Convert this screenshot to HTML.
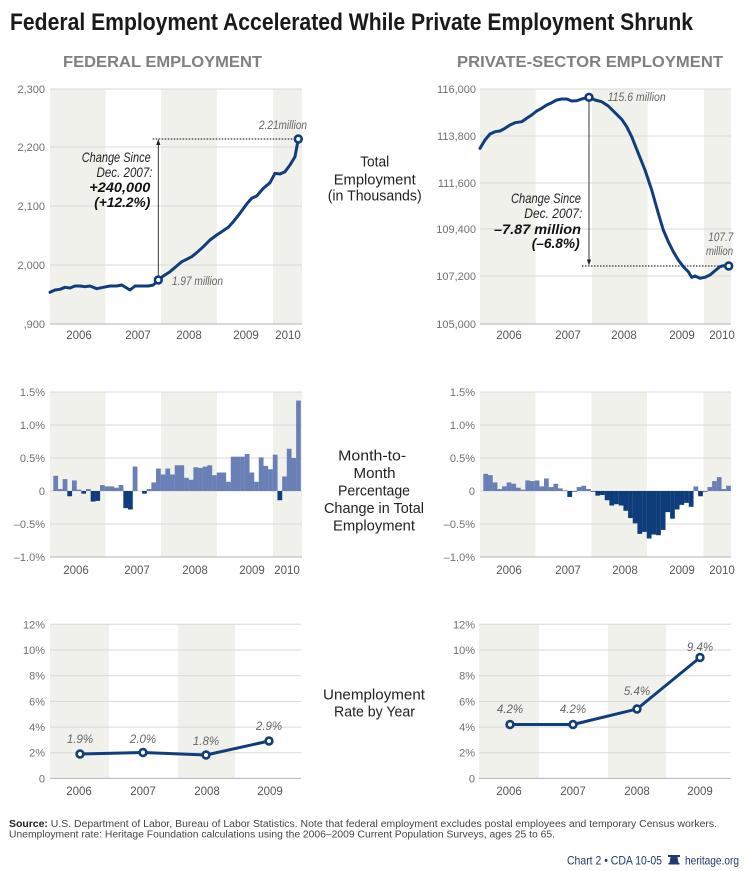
<!DOCTYPE html>
<html><head><meta charset="utf-8"><style>
html,body{margin:0;padding:0;background:#fff;}
svg{display:block;}
text{font-family:"Liberation Sans",sans-serif;}
.tk{font-size:11px;fill:#707070;}
.yr{font-size:11.5px;fill:#555;text-anchor:middle;}
.ctr{font-size:15px;fill:#222;}
.ann{font-size:14px;fill:#222;font-style:italic;}
.annb{font-size:14px;fill:#111;font-style:italic;font-weight:bold;}
.ml{font-size:11.5px;fill:#666;font-style:italic;}
.grid{stroke:#dadada;stroke-width:1;}
.axis{stroke:#b5b5b5;stroke-width:1;}
.band{fill:#eff1ea;}
.ln{fill:none;stroke:#103e7c;stroke-width:3;stroke-linejoin:round;stroke-linecap:round;}
.mk{fill:#fff;stroke:#103e7c;stroke-width:2.6;}
.pos{fill:#6a7fb6;}
.neg{fill:#0f3d7c;}
</style></head><body>
<svg width="750" height="871" viewBox="0 0 750 871" xmlns="http://www.w3.org/2000/svg">
<!-- Title -->
<text x="10" y="30" font-size="24" font-weight="bold" fill="#1a1a1a" textLength="683" lengthAdjust="spacingAndGlyphs">Federal Employment Accelerated While Private Employment Shrunk</text>
<text x="63" y="67" font-size="16" font-weight="bold" fill="#808080" textLength="199" lengthAdjust="spacingAndGlyphs">FEDERAL EMPLOYMENT</text>
<text x="457" y="67" font-size="16" font-weight="bold" fill="#808080" textLength="266" lengthAdjust="spacingAndGlyphs">PRIVATE-SECTOR EMPLOYMENT</text>

<!-- ===== TOP LEFT ===== -->
<rect class="band" x="50" y="89" width="55.5" height="235"/>
<rect class="band" x="161" y="89" width="56" height="235"/>
<rect class="band" x="273" y="89" width="29" height="235"/>
<line class="grid" x1="50" x2="302" y1="89" y2="89"/>
<line class="grid" x1="50" x2="302" y1="147" y2="147"/>
<line class="grid" x1="50" x2="302" y1="206" y2="206"/>
<line class="grid" x1="50" x2="302" y1="265" y2="265"/>
<line class="axis" x1="50" x2="302" y1="324" y2="324"/>
<g class="tk" text-anchor="end">
<text x="45" y="93">2,300</text>
<text x="45" y="151">2,200</text>
<text x="45" y="210">2,100</text>
<text x="45" y="269">2,000</text>
<text x="45" y="328">,900</text>
</g>
<g class="yr">
<text x="79" y="339">2006</text>
<text x="138" y="339">2007</text>
<text x="189" y="339">2008</text>
<text x="246" y="339">2009</text>
<text x="288" y="339">2010</text>
</g>
<line x1="152.7" x2="294" y1="139" y2="139" stroke="#333" stroke-width="1.2" stroke-dasharray="1.5,1.5"/>
<line x1="158.3" x2="158.3" y1="276" y2="142" stroke="#222" stroke-width="0.9"/>
<polygon points="158.3,139 156.2,145 160.4,145" fill="#222"/>
<polyline class="ln" points="50,292.3 55,290 60,289.3 65,287.3 70,288 75,286 80,286 85,286.7 90,286 96.7,288.7 103.3,287.3 110,286 116.7,286 121.7,285 130,290 135,286 140,286 148.3,286 153.3,285 158.3,280 163.3,276 170,271.7 176.7,266 181.7,261.7 186.7,259.3 191.7,256.7 196.7,252.7 203.3,246.7 210,240 216.7,235 221.7,231.7 228.3,227.3 233.3,221.7 240,213.3 246.7,204 251.7,198.3 256.7,196 263.3,188.3 270,182.7 275,173.3 280,174 285,171.7 290,165 295,156.7 298.3,139"/>
<circle class="mk" cx="158.3" cy="280" r="3.4"/>
<circle class="mk" cx="298.3" cy="139" r="3.4"/>
<text class="ml" x="259" y="129" textLength="48" lengthAdjust="spacingAndGlyphs">2.21million</text>
<text class="ml" x="172" y="285" textLength="51" lengthAdjust="spacingAndGlyphs">1.97 million</text>
<text class="ann" x="81.7" y="162" textLength="69" lengthAdjust="spacingAndGlyphs">Change Since</text>
<text class="ann" x="96.5" y="177" textLength="56" lengthAdjust="spacingAndGlyphs">Dec. 2007:</text>
<text class="annb" x="89.3" y="192" textLength="61" lengthAdjust="spacingAndGlyphs">+240,000</text>
<text class="annb" x="94.3" y="207" textLength="56" lengthAdjust="spacingAndGlyphs">(+12.2%)</text>

<!-- center label top -->
<text class="ctr" x="360.2" y="166.7" textLength="29" lengthAdjust="spacingAndGlyphs">Total</text>
<text class="ctr" x="333.7" y="184.3" textLength="82" lengthAdjust="spacingAndGlyphs">Employment</text>
<text class="ctr" x="327.7" y="200.7" textLength="94" lengthAdjust="spacingAndGlyphs">(in Thousands)</text>

<!-- ===== TOP RIGHT ===== -->
<rect class="band" x="480" y="89" width="55.7" height="235"/>
<rect class="band" x="592" y="89" width="55.7" height="235"/>
<rect class="band" x="704" y="89" width="27" height="235"/>
<line class="grid" x1="480" x2="731" y1="89" y2="89"/>
<line class="grid" x1="480" x2="731" y1="136" y2="136"/>
<line class="grid" x1="480" x2="731" y1="183" y2="183"/>
<line class="grid" x1="480" x2="731" y1="229" y2="229"/>
<line class="grid" x1="480" x2="731" y1="276" y2="276"/>
<line class="axis" x1="480" x2="731" y1="324" y2="324"/>
<g class="tk" text-anchor="end">
<text x="476" y="93">116,000</text>
<text x="476" y="140">113,800</text>
<text x="476" y="187">111,600</text>
<text x="476" y="233">109,400</text>
<text x="476" y="280">107,200</text>
<text x="476" y="328">105,000</text>
</g>
<g class="yr">
<text x="509" y="339">2006</text>
<text x="568" y="339">2007</text>
<text x="624" y="339">2008</text>
<text x="682" y="339">2009</text>
<text x="722" y="339">2010</text>
</g>
<line x1="582" x2="725" y1="266" y2="266" stroke="#333" stroke-width="1.2" stroke-dasharray="1.5,1.5"/>
<line x1="589" x2="589" y1="101" y2="262" stroke="#222" stroke-width="0.9"/>
<polygon points="589,265.5 586.9,259.5 591.1,259.5" fill="#222"/>
<polyline class="ln" points="480,148.3 485,140 490,134 495,131.7 500,131 505,128.3 510,125 515,122.7 521.7,121.7 526.7,118.3 531.7,115 536.7,111 541.7,108.3 546.7,105 551.7,102.7 556.7,100 561.7,99 566.7,99 571.7,101 576.7,100.7 581.7,99 589,97.3 595,100 601.7,101.7 608.3,106 615,112.7 621.7,119.3 626.7,126.7 631.7,136.7 638.3,153.3 645,170 651.7,190 658.3,213.3 663.3,230 668.3,241.7 673.3,251.7 678.3,260 683.3,266.7 688.3,271.7 691.7,277.3 695,276 700,278.3 705,277.3 710,275 715,270.7 720,266.7 723.3,265.7 728.7,266"/>
<circle class="mk" cx="589" cy="97.3" r="3.4"/>
<circle class="mk" cx="728.7" cy="266" r="3.4"/>
<text class="ml" x="607.7" y="101" textLength="58" lengthAdjust="spacingAndGlyphs">115.6 million</text>
<text class="ml" x="708.3" y="241" textLength="25" lengthAdjust="spacingAndGlyphs">107.7</text>
<text class="ml" x="706" y="255" textLength="27" lengthAdjust="spacingAndGlyphs">million</text>
<text class="ann" x="511" y="203" textLength="70" lengthAdjust="spacingAndGlyphs">Change Since</text>
<text class="ann" x="524.3" y="218" textLength="58" lengthAdjust="spacingAndGlyphs">Dec. 2007:</text>
<text class="annb" x="494" y="234" textLength="87" lengthAdjust="spacingAndGlyphs">–7.87 million</text>
<text class="annb" x="531.7" y="248" textLength="48" lengthAdjust="spacingAndGlyphs">(–6.8%)</text>

<!-- ===== MIDDLE LEFT ===== -->
<rect class="band" x="50" y="392" width="55.5" height="165"/>
<rect class="band" x="161" y="392" width="56" height="165"/>
<rect class="band" x="273" y="392" width="29" height="165"/>
<line class="grid" x1="50" x2="302" y1="392" y2="392"/>
<line class="grid" x1="50" x2="302" y1="425" y2="425"/>
<line class="grid" x1="50" x2="302" y1="458" y2="458"/>
<line class="grid" x1="50" x2="302" y1="491" y2="491"/>
<line class="grid" x1="50" x2="302" y1="524" y2="524"/>
<line class="axis" x1="50" x2="302" y1="557" y2="557"/>
<g class="tk" text-anchor="end">
<text x="45" y="396">1.5%</text>
<text x="45" y="429">1.0%</text>
<text x="45" y="462">0.5%</text>
<text x="45" y="495">0</text>
<text x="45" y="528">–0.5%</text>
<text x="45" y="561">–1.0%</text>
</g>
<g class="yr">
<text x="76" y="574">2006</text>
<text x="137" y="574">2007</text>
<text x="195" y="574">2008</text>
<text x="252" y="574">2009</text>
<text x="287" y="574">2010</text>
</g>
<g transform="translate(53.3,491) scale(4.67,-66)">
<g class="pos">
<rect x="0" y="0" width="1.02" height="0.23"/>
<rect x="1" y="0" width="1.02" height="0.03"/>
<rect x="2" y="0" width="1.02" height="0.18"/>
<rect x="4" y="0" width="1.02" height="0.16"/>
<rect x="5" y="0" width="1.02" height="0.02"/>
<rect x="7" y="0" width="1.02" height="0.03"/>
<rect x="10" y="0" width="1.02" height="0.09"/>
<rect x="11" y="0" width="1.02" height="0.07"/>
<rect x="12" y="0" width="1.02" height="0.07"/>
<rect x="13" y="0" width="1.02" height="0.05"/>
<rect x="14" y="0" width="1.02" height="0.09"/>
<rect x="17" y="0" width="1.02" height="0.37"/>
<rect x="20" y="0" width="1.02" height="0.03"/>
<rect x="21" y="0" width="1.02" height="0.13"/>
<rect x="22" y="0" width="1.02" height="0.34"/>
<rect x="23" y="0" width="1.02" height="0.25"/>
<rect x="24" y="0" width="1.02" height="0.34"/>
<rect x="25" y="0" width="1.02" height="0.25"/>
<rect x="26" y="0" width="1.02" height="0.39"/>
<rect x="27" y="0" width="1.02" height="0.39"/>
<rect x="28" y="0" width="1.02" height="0.20"/>
<rect x="29" y="0" width="1.02" height="0.17"/>
<rect x="30" y="0" width="1.02" height="0.36"/>
<rect x="31" y="0" width="1.02" height="0.35"/>
<rect x="32" y="0" width="1.02" height="0.37"/>
<rect x="33" y="0" width="1.02" height="0.39"/>
<rect x="34" y="0" width="1.02" height="0.24"/>
<rect x="35" y="0" width="1.02" height="0.28"/>
<rect x="36" y="0" width="1.02" height="0.28"/>
<rect x="37" y="0" width="1.02" height="0.14"/>
<rect x="38" y="0" width="1.02" height="0.52"/>
<rect x="39" y="0" width="1.02" height="0.52"/>
<rect x="40" y="0" width="1.02" height="0.52"/>
<rect x="41" y="0" width="1.02" height="0.56"/>
<rect x="42" y="0" width="1.02" height="0.28"/>
<rect x="43" y="0" width="1.02" height="0.14"/>
<rect x="44" y="0" width="1.02" height="0.51"/>
<rect x="45" y="0" width="1.02" height="0.38"/>
<rect x="46" y="0" width="1.02" height="0.33"/>
<rect x="47" y="0" width="1.02" height="0.55"/>
<rect x="49" y="0" width="1.02" height="0.22"/>
<rect x="50" y="0" width="1.02" height="0.64"/>
<rect x="51" y="0" width="1.02" height="0.50"/>
<rect x="52" y="0" width="1.0" height="1.37"/>
</g>
<g class="neg">
<rect x="3" y="-0.08" width="1.02" height="0.08"/>
<rect x="6" y="-0.04" width="1.02" height="0.04"/>
<rect x="8" y="-0.16" width="1.02" height="0.16"/>
<rect x="9" y="-0.15" width="1.02" height="0.15"/>
<rect x="15" y="-0.26" width="1.02" height="0.26"/>
<rect x="16" y="-0.28" width="1.02" height="0.28"/>
<rect x="19" y="-0.04" width="1.02" height="0.04"/>
<rect x="48" y="-0.14" width="1.02" height="0.14"/>
</g>
</g>

<!-- center label middle -->
<text class="ctr" x="338.2" y="460.5" textLength="68" lengthAdjust="spacingAndGlyphs">Month-to-</text>
<text class="ctr" x="353.5" y="478" textLength="42" lengthAdjust="spacingAndGlyphs">Month</text>
<text class="ctr" x="338" y="495.5" textLength="72" lengthAdjust="spacingAndGlyphs">Percentage</text>
<text class="ctr" x="324" y="513" textLength="100" lengthAdjust="spacingAndGlyphs">Change in Total</text>
<text class="ctr" x="333" y="530.5" textLength="82" lengthAdjust="spacingAndGlyphs">Employment</text>

<!-- ===== MIDDLE RIGHT ===== -->
<rect class="band" x="480" y="392" width="55.5" height="165"/>
<rect class="band" x="591.5" y="392" width="55.5" height="165"/>
<rect class="band" x="703.5" y="392" width="27.5" height="165"/>
<line class="grid" x1="480" x2="731" y1="392" y2="392"/>
<line class="grid" x1="480" x2="731" y1="425" y2="425"/>
<line class="grid" x1="480" x2="731" y1="458" y2="458"/>
<line class="grid" x1="480" x2="731" y1="491" y2="491"/>
<line class="grid" x1="480" x2="731" y1="524" y2="524"/>
<line class="axis" x1="480" x2="731" y1="557" y2="557"/>
<g class="tk" text-anchor="end">
<text x="475" y="396">1.5%</text>
<text x="475" y="429">1.0%</text>
<text x="475" y="462">0.5%</text>
<text x="475" y="495">0</text>
<text x="475" y="528">–0.5%</text>
<text x="475" y="561">–1.0%</text>
</g>
<g class="yr">
<text x="509" y="574">2006</text>
<text x="568" y="574">2007</text>
<text x="625" y="574">2008</text>
<text x="682" y="574">2009</text>
<text x="722" y="574">2010</text>
</g>
<g transform="translate(483.3,491) scale(4.67,-66)">
<g class="pos">
<rect x="0" y="0" width="1.02" height="0.26"/>
<rect x="1" y="0" width="1.02" height="0.24"/>
<rect x="2" y="0" width="1.02" height="0.13"/>
<rect x="3" y="0" width="1.02" height="0.03"/>
<rect x="4" y="0" width="1.02" height="0.07"/>
<rect x="5" y="0" width="1.02" height="0.13"/>
<rect x="6" y="0" width="1.02" height="0.11"/>
<rect x="7" y="0" width="1.02" height="0.05"/>
<rect x="8" y="0" width="1.02" height="0.02"/>
<rect x="9" y="0" width="1.02" height="0.16"/>
<rect x="10" y="0" width="1.02" height="0.15"/>
<rect x="11" y="0" width="1.02" height="0.16"/>
<rect x="12" y="0" width="1.02" height="0.07"/>
<rect x="13" y="0" width="1.02" height="0.19"/>
<rect x="14" y="0" width="1.02" height="0.06"/>
<rect x="15" y="0" width="1.02" height="0.11"/>
<rect x="16" y="0" width="1.02" height="0.04"/>
<rect x="17" y="0" width="1.02" height="0.01"/>
<rect x="20" y="0" width="1.02" height="0.06"/>
<rect x="21" y="0" width="1.02" height="0.08"/>
<rect x="22" y="0" width="1.02" height="0.03"/>
<rect x="45" y="0" width="1.02" height="0.07"/>
<rect x="48" y="0" width="1.02" height="0.06"/>
<rect x="49" y="0" width="1.02" height="0.15"/>
<rect x="50" y="0" width="1.02" height="0.21"/>
<rect x="51" y="0" width="1.02" height="0.03"/>
<rect x="52" y="0" width="1.0" height="0.08"/>
</g>
<g class="neg">
<rect x="18" y="-0.09" width="1.02" height="0.09"/>
<rect x="19" y="-0.01" width="1.02" height="0.01"/>
<rect x="23" y="-0.01" width="1.02" height="0.01"/>
<rect x="24" y="-0.07" width="1.02" height="0.07"/>
<rect x="25" y="-0.06" width="1.02" height="0.06"/>
<rect x="26" y="-0.14" width="1.02" height="0.14"/>
<rect x="27" y="-0.22" width="1.02" height="0.22"/>
<rect x="28" y="-0.20" width="1.02" height="0.20"/>
<rect x="29" y="-0.22" width="1.02" height="0.22"/>
<rect x="30" y="-0.30" width="1.02" height="0.30"/>
<rect x="31" y="-0.41" width="1.02" height="0.41"/>
<rect x="32" y="-0.49" width="1.02" height="0.49"/>
<rect x="33" y="-0.65" width="1.02" height="0.65"/>
<rect x="34" y="-0.62" width="1.02" height="0.62"/>
<rect x="35" y="-0.72" width="1.02" height="0.72"/>
<rect x="36" y="-0.66" width="1.02" height="0.66"/>
<rect x="37" y="-0.67" width="1.02" height="0.67"/>
<rect x="38" y="-0.59" width="1.02" height="0.59"/>
<rect x="39" y="-0.32" width="1.02" height="0.32"/>
<rect x="40" y="-0.42" width="1.02" height="0.42"/>
<rect x="41" y="-0.28" width="1.02" height="0.28"/>
<rect x="42" y="-0.21" width="1.02" height="0.21"/>
<rect x="43" y="-0.18" width="1.02" height="0.18"/>
<rect x="44" y="-0.24" width="1.02" height="0.24"/>
<rect x="46" y="-0.08" width="1.02" height="0.08"/>
<rect x="47" y="-0.01" width="1.02" height="0.01"/>
</g>
</g>

<!-- ===== BOTTOM LEFT ===== -->
<rect class="band" x="50" y="624.3" width="59" height="154"/>
<rect class="band" x="178" y="624.3" width="57" height="154"/>
<line class="grid" x1="50" x2="301" y1="624.3" y2="624.3"/>
<line class="grid" x1="50" x2="301" y1="650" y2="650"/>
<line class="grid" x1="50" x2="301" y1="675.7" y2="675.7"/>
<line class="grid" x1="50" x2="301" y1="701.4" y2="701.4"/>
<line class="grid" x1="50" x2="301" y1="727.1" y2="727.1"/>
<line class="grid" x1="50" x2="301" y1="752.7" y2="752.7"/>
<line class="axis" x1="50" x2="301" y1="778.4" y2="778.4"/>
<g class="tk" text-anchor="end">
<text x="45" y="628.3">12%</text>
<text x="45" y="654">10%</text>
<text x="45" y="679.7">8%</text>
<text x="45" y="705.4">6%</text>
<text x="45" y="731.1">4%</text>
<text x="45" y="756.7">2%</text>
<text x="45" y="782.4">0</text>
</g>
<g class="yr">
<text x="79" y="795">2006</text>
<text x="143" y="795">2007</text>
<text x="207" y="795">2008</text>
<text x="270" y="795">2009</text>
</g>
<polyline class="ln" points="80,754 143,752.5 206,755 269,741"/>
<circle class="mk" cx="80" cy="754" r="3.4"/>
<circle class="mk" cx="143" cy="752.5" r="3.4"/>
<circle class="mk" cx="206" cy="755" r="3.4"/>
<circle class="mk" cx="269" cy="741" r="3.4"/>
<g class="ml" text-anchor="middle" font-size="12.5">
<text x="80" y="743">1.9%</text>
<text x="143" y="743">2.0%</text>
<text x="206" y="745">1.8%</text>
<text x="269" y="730">2.9%</text>
</g>

<text class="ctr" x="323" y="699.3" textLength="102" lengthAdjust="spacingAndGlyphs">Unemployment</text>
<text class="ctr" x="334" y="716.7" textLength="81" lengthAdjust="spacingAndGlyphs">Rate by Year</text>

<!-- ===== BOTTOM RIGHT ===== -->
<rect class="band" x="479" y="624.3" width="60" height="154"/>
<rect class="band" x="608" y="624.3" width="58" height="154"/>
<line class="grid" x1="479" x2="731" y1="624.3" y2="624.3"/>
<line class="grid" x1="479" x2="731" y1="650" y2="650"/>
<line class="grid" x1="479" x2="731" y1="675.7" y2="675.7"/>
<line class="grid" x1="479" x2="731" y1="701.4" y2="701.4"/>
<line class="grid" x1="479" x2="731" y1="727.1" y2="727.1"/>
<line class="grid" x1="479" x2="731" y1="752.7" y2="752.7"/>
<line class="axis" x1="479" x2="731" y1="778.4" y2="778.4"/>
<g class="tk" text-anchor="end">
<text x="475" y="628.3">12%</text>
<text x="475" y="654">10%</text>
<text x="475" y="679.7">8%</text>
<text x="475" y="705.4">6%</text>
<text x="475" y="731.1">4%</text>
<text x="475" y="756.7">2%</text>
<text x="475" y="782.4">0</text>
</g>
<g class="yr">
<text x="509" y="795">2006</text>
<text x="573" y="795">2007</text>
<text x="637" y="795">2008</text>
<text x="700" y="795">2009</text>
</g>
<polyline class="ln" points="510,724.5 573,724.5 637,709 700,657.5"/>
<circle class="mk" cx="510" cy="724.5" r="3.4"/>
<circle class="mk" cx="573" cy="724.5" r="3.4"/>
<circle class="mk" cx="637" cy="709" r="3.4"/>
<circle class="mk" cx="700" cy="657.5" r="3.4"/>
<g class="ml" text-anchor="middle" font-size="12.5">
<text x="510" y="713">4.2%</text>
<text x="573" y="713">4.2%</text>
<text x="637" y="695">5.4%</text>
<text x="700" y="651">9.4%</text>
</g>

<!-- ===== FOOTER ===== -->
<text x="9" y="827" font-size="10" fill="#444" textLength="708" lengthAdjust="spacingAndGlyphs"><tspan font-weight="bold" fill="#222">Source:</tspan> U.S. Department of Labor, Bureau of Labor Statistics. Note that federal employment excludes postal employees and temporary Census workers.</text>
<text x="9" y="837.5" font-size="10" fill="#444" textLength="546" lengthAdjust="spacingAndGlyphs">Unemployment rate: Heritage Foundation calculations using the 2006–2009 Current Population Surveys, ages 25 to 65.</text>
<text x="567" y="864.5" font-size="12" fill="#1f3a70" textLength="95" lengthAdjust="spacingAndGlyphs">Chart 2 • CDA 10-05</text>
<g fill="#1f3a70">
<rect x="668" y="855" width="12" height="2"/>
<path d="M670.5,857 L677.5,857 L678.5,863 L669.5,863 Z"/>
<rect x="668.5" y="863" width="11" height="1.5"/>
</g>
<text x="685" y="864.5" font-size="12" fill="#1f3a70" textLength="54" lengthAdjust="spacingAndGlyphs">heritage.org</text>
</svg>
</body></html>
